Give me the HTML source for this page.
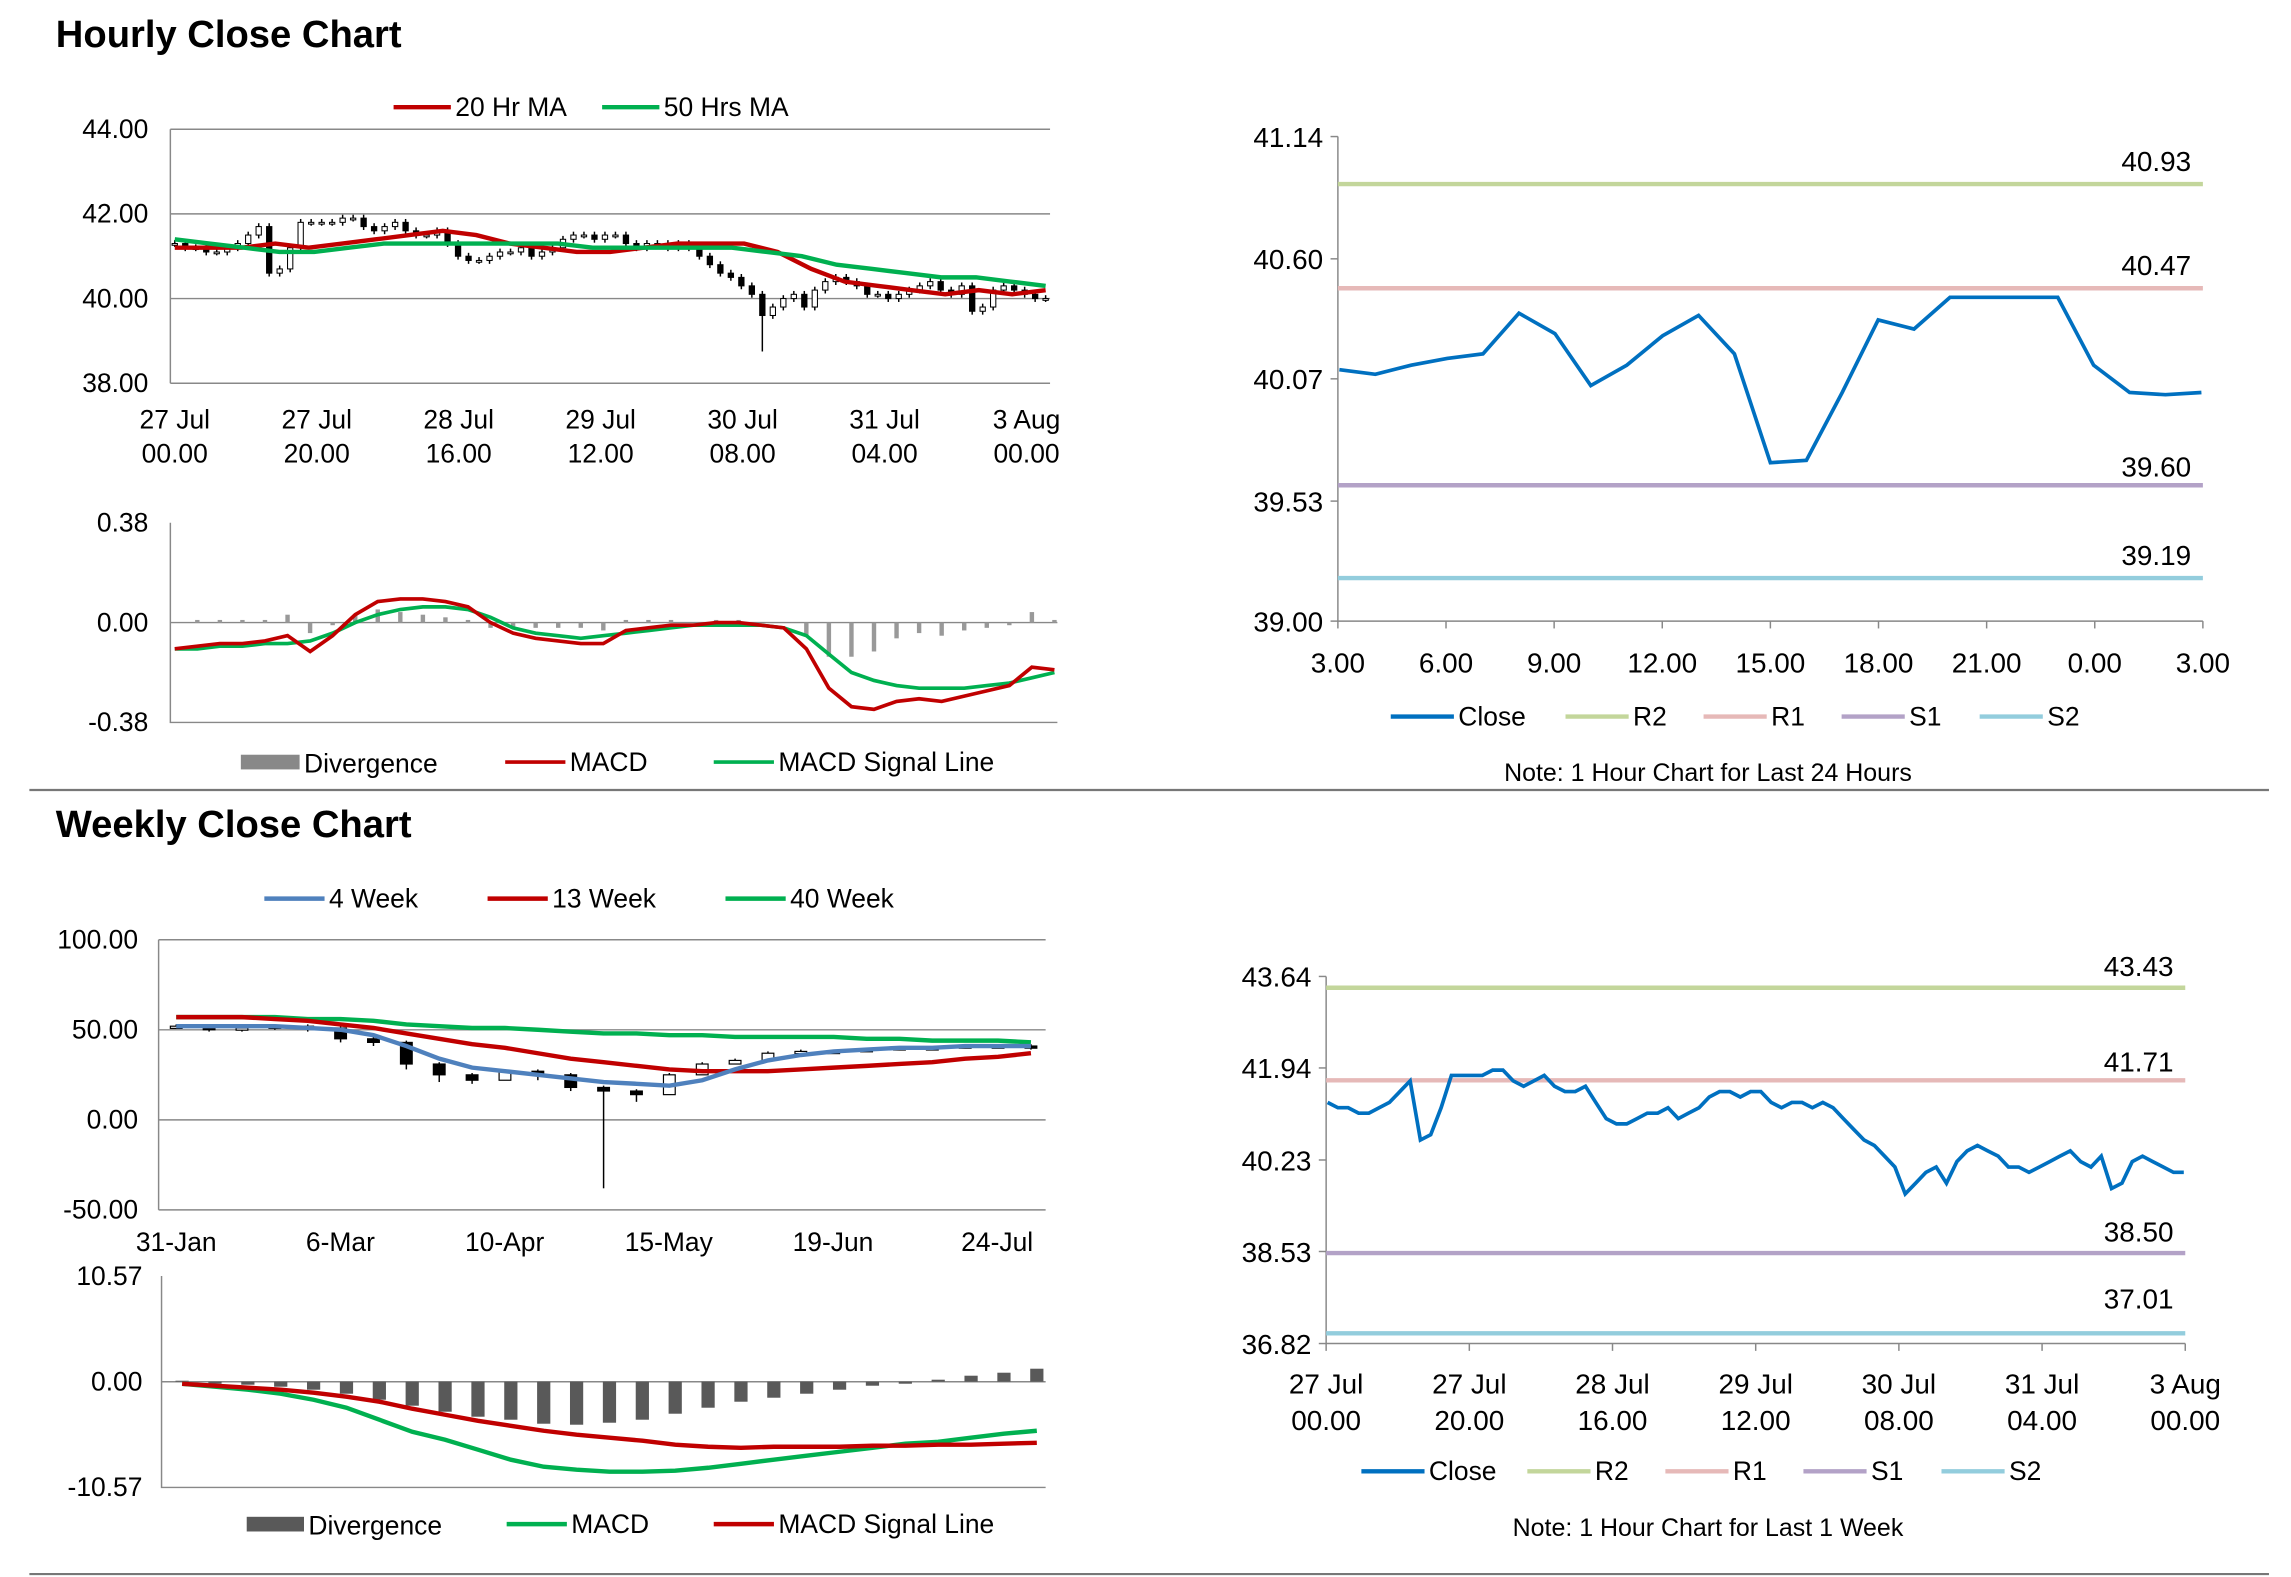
<!DOCTYPE html>
<html><head><meta charset="utf-8"><title>Hourly and Weekly Close Charts</title>
<style>
html,body{margin:0;padding:0;background:#fff;}
svg{display:block;}
text{font-family:"Liberation Sans Narrow","Liberation Sans",sans-serif;fill:#000;}
.t{font-family:"Liberation Sans",sans-serif;font-weight:bold;}
</style></head>
<body>
<svg id="root" xmlns="http://www.w3.org/2000/svg" width="2291" height="1577" viewBox="0 0 1560 1074" preserveAspectRatio="none"></svg>
<script>
// ---------- DATA ----------
const closeH = [41.3,41.2,41.2,41.1,41.1,41.2,41.3,41.5,41.7,40.6,40.7,41.2,41.8,41.8,41.8,41.8,41.9,41.9,41.7,41.6,41.7,41.8,41.6,41.5,41.5,41.6,41.3,41.0,40.9,40.9,41.0,41.1,41.1,41.2,41.0,41.1,41.2,41.4,41.5,41.5,41.4,41.5,41.5,41.3,41.2,41.3,41.3,41.2,41.3,41.2,41.0,40.8,40.6,40.5,40.3,40.1,39.6,39.8,40.0,40.1,39.8,40.2,40.4,40.5,40.4,40.3,40.1,40.1,40.0,40.1,40.2,40.3,40.4,40.2,40.1,40.3,39.7,39.8,40.2,40.3,40.2,40.1,40.0,40.0];
const spikeIdx = [56];
const spikeLow = [38.75];
const ma20H = [41.2,41.2,41.2,41.3,41.2,41.3,41.4,41.5,41.6,41.5,41.3,41.2,41.1,41.1,41.2,41.3,41.3,41.3,41.1,40.7,40.4,40.3,40.2,40.1,40.2,40.1,40.2];
const ma50H = [41.4,41.3,41.2,41.1,41.1,41.2,41.3,41.3,41.3,41.3,41.3,41.3,41.2,41.2,41.2,41.2,41.2,41.1,41.0,40.8,40.7,40.6,40.5,40.5,40.4,40.3];
const hTickVals = [38,40,42,44];
const hTickLabels = ["38.00","40.00","42.00","44.00"];
const dateLabels1 = ["27 Jul","27 Jul","28 Jul","29 Jul","30 Jul","31 Jul","3 Aug"];
const dateLabels2 = ["00.00","20.00","16.00","12.00","08.00","04.00","00.00"];

const macdH = [-0.10,-0.09,-0.08,-0.08,-0.07,-0.05,-0.11,-0.05,0.03,0.08,0.09,0.09,0.08,0.06,0.00,-0.04,-0.06,-0.07,-0.08,-0.08,-0.03,-0.02,-0.01,-0.01,0.00,0.00,-0.01,-0.02,-0.10,-0.25,-0.32,-0.33,-0.30,-0.29,-0.30,-0.28,-0.26,-0.24,-0.17,-0.18];
const signalH = [-0.10,-0.10,-0.09,-0.09,-0.08,-0.08,-0.07,-0.04,0.00,0.03,0.05,0.06,0.06,0.05,0.02,-0.02,-0.04,-0.05,-0.06,-0.05,-0.04,-0.03,-0.02,-0.01,-0.01,-0.01,-0.01,-0.02,-0.05,-0.12,-0.19,-0.22,-0.24,-0.25,-0.25,-0.25,-0.24,-0.23,-0.21,-0.19];
const macdHTicks = [-0.38,0,0.38];
const macdHTickLabels = ["-0.38","0.00","0.38"];

const close24 = [40.11,40.09,40.13,40.16,40.18,40.36,40.27,40.04,40.13,40.26,40.35,40.18,39.70,39.71,40.01,40.33,40.29,40.43,40.43,40.43,40.43,40.13,40.01,40.00,40.01];
const hourLabels = ["3.00","6.00","9.00","12.00","15.00","18.00","21.00","0.00","3.00"];
const pivot24 = [40.93,40.47,39.60,39.19];
const pivotNames = ["R2","R1","S1","S2"];
const pivotColors = ["#c3d69b","#e6b9b8","#b3a2c7","#93cddd"];
const r24Ticks = [39.00,39.53,40.07,40.60,41.14];

const weekLabels = ["31-Jan","6-Mar","10-Apr","15-May","19-Jun","24-Jul"];
const closeW = [52,50,51,52,51,45,43,31,25,22,27,25,18,16,14,25,31,33,37,38,38,39,40,40,41,41,40];
const lowW = [51,49,49,50,49,43,41,28,21,20,22,22,16,-38,10,22,30,32,36,37,37,38,39,39,40,40,39];
const wk4 = [52,52,52,52,51,50,47,41,34,29,27,25,23,21,20,19,22,28,33,36,38,39,40,40,41,41,41];
const wk13 = [57,57,57,56,55,53,51,48,45,42,40,37,34,32,30,28,27,27,27,28,29,30,31,32,34,35,37];
const wk40 = [57,57,57,57,56,56,55,53,52,51,51,50,49,48,48,47,47,46,46,46,46,45,45,44,44,44,43];
const wTicks = [-50,0,50,100];
const wTickLabels = ["-50.00","0.00","50.00","100.00"];

const macdW = [-0.2,-0.5,-0.8,-1.2,-1.8,-2.6,-3.8,-5.0,-5.8,-6.8,-7.8,-8.5,-8.8,-9.0,-9.0,-8.9,-8.6,-8.2,-7.8,-7.4,-7.0,-6.6,-6.2,-6.0,-5.6,-5.2,-4.9];
const signalW = [-0.2,-0.4,-0.6,-0.8,-1.1,-1.5,-2.0,-2.7,-3.3,-3.9,-4.4,-4.9,-5.3,-5.6,-5.9,-6.3,-6.5,-6.6,-6.5,-6.5,-6.5,-6.4,-6.4,-6.3,-6.3,-6.2,-6.1];
const divW = [0.1,-0.2,-0.3,-0.5,-0.8,-1.2,-1.8,-2.4,-3.0,-3.5,-3.8,-4.2,-4.3,-4.1,-3.8,-3.2,-2.6,-2.0,-1.6,-1.2,-0.8,-0.4,-0.2,0.2,0.6,0.9,1.3];
const macdWTicks = [-10.57,0,10.57];
const macdWTickLabels = ["-10.57","0.00","10.57"];

const pivotW = [43.43,41.71,38.50,37.01];
const rWTicks = [36.82,38.53,40.23,41.94,43.64];

// ---------- HELPERS ----------
const NS = "http://www.w3.org/2000/svg";
const root = document.getElementById('root');
function mk(tag, attrs, parent){const e=document.createElementNS(NS,tag);for(const k in attrs)e.setAttribute(k,attrs[k]);(parent||root).appendChild(e);return e;}
function txt(s,x,y,size,anchor,parent,cls){const e=mk('text',{x:x,y:y,'font-size':size,'text-anchor':anchor||'start'},parent);if(cls)e.setAttribute('class',cls);e.textContent=s;return e;}
function lin(v,d0,d1,p0,p1){return p0+(v-d0)/(d1-d0)*(p1-p0);}
function pathD(vals,xf,yf){return vals.map((v,i)=>(i?'L':'M')+xf(i).toFixed(1)+' '+yf(v).toFixed(1)).join(' ');}

let e;
e=txt("Hourly Close Chart",38,32,26,'start',root,'t');


e=txt("Weekly Close Chart",38,570,26,'start',root,'t');


e=mk('line',{x1:20,y1:538,x2:1545,y2:538,stroke:'#777','stroke-width':1.5});


e=mk('line',{x1:20,y1:1072,x2:1545,y2:1072,stroke:'#777','stroke-width':1.5});



function legendLine(g,x1,x2,y,color,label,w){
  const l=mk('line',{x1:x1,y1:y,x2:x2,y2:y,stroke:color,'stroke-width':w||3},g);
  
  
  const t=txt(label,x2+3,y+6,18,'start',g);
  
  
}

// ---------- CHART 1: hourly candles ----------
(function(){
  const g=mk('g',{});
  
  
  const X0=116,X1=715,Y0=261,Y1=88;
  const y=v=>lin(v,38,44,Y0,Y1);
  hTickVals.forEach((v,i)=>{
    const gl=mk('line',{x1:X0,x2:X1,y1:y(v),y2:y(v),stroke:'#888','stroke-width':1},g);
    
    
    const t=txt(hTickLabels[i],101,y(v)+6,18,'end',g);
    
    
  });
  const ax=mk('line',{x1:X0,x2:X0,y1:Y1,y2:Y0,stroke:'#888'},g);
  
  
  const dx=(699-119)/6;
  dateLabels1.forEach((s,i)=>{
    const t=txt(s,119+i*dx,292,18,'middle',g);
    
    
    const t2=txt(dateLabels2[i],119+i*dx,315,18,'middle',g);
    
    
  });
  const n=closeH.length;
  const xc=i=>lin(i,0,n-1,119,712);
  closeH.forEach((c,i)=>{
    const o=i?closeH[i-1]:c;
    let hi=Math.max(o,c)+0.08, lo=Math.min(o,c)-0.08;
    const si=spikeIdx.indexOf(i); if(si>=0) lo=spikeLow[si];
    const w=mk('line',{x1:xc(i),x2:xc(i),y1:y(hi),y2:y(lo),stroke:'#000','stroke-width':1},g);
    
    
    const top=y(Math.max(o,c)), bh=Math.max(1.2,Math.abs(y(o)-y(c)));
    const b=mk('rect',{x:xc(i)-1.8,y:top,width:3.6,height:bh,fill:c>=o?'#fff':'#000',stroke:'#000','stroke-width':0.7},g);
    
    
  });
  const l20=mk('path',{d:pathD(ma20H,i=>lin(i,0,ma20H.length-1,119,712),y),fill:'none',stroke:'#c00000','stroke-width':3},g);
  
  
  const l50=mk('path',{d:pathD(ma50H,i=>lin(i,0,ma50H.length-1,119,712),y),fill:'none',stroke:'#00b050','stroke-width':3},g);
  
  
  legendLine(g,268,307,73,'#c00000','20 Hr MA');
  legendLine(g,410,449,73,'#00b050','50 Hrs MA');
})();

// ---------- CHART 2: hourly MACD ----------
(function(){
  const g=mk('g',{});
  
  
  const X0=116,X1=720,Y0=492,Y1=356;
  const y=v=>lin(v,-0.38,0.38,Y0,Y1);
  macdHTicks.forEach((v,i)=>{
    const t=txt(macdHTickLabels[i],101,y(v)+6,18,'end',g);
    
    
  });
  const ax=mk('path',{d:`M${X0} ${Y1} L${X0} ${Y0} L${X1} ${Y0}`,fill:'none',stroke:'#888'},g);
  
  
  const z=mk('line',{x1:X0,x2:X1,y1:y(0),y2:y(0),stroke:'#888'},g);
  
  
  const n=macdH.length, xf=i=>lin(i,0,n-1,119,718);
  macdH.forEach((m,i)=>{
    const d=m-signalH[i];
    const b=mk('rect',{x:xf(i)-1.5,y:Math.min(y(0),y(d)),width:3,height:Math.abs(y(d)-y(0)),fill:'#999'},g);
    
    
  });
  const s=mk('path',{d:pathD(signalH,xf,y),fill:'none',stroke:'#00b050','stroke-width':2.5},g);
  
  
  const m=mk('path',{d:pathD(macdH,xf,y),fill:'none',stroke:'#c00000','stroke-width':2.5},g);
  
  
  const sw=mk('rect',{x:164,y:514,width:40,height:10,fill:'#888'},g);
  
  
  const tl=txt('Divergence',207,526,18,'start',g);
  
  
  legendLine(g,344,385,519,'#c00000','MACD',2.5);
  legendLine(g,486,527,519,'#00b050','MACD Signal Line',2.5);
})();

// ---------- pivot line charts ----------
function pivotChart(cfg){
  const g=mk('g',{});
  
  
  const y=v=>lin(v,cfg.ymin,cfg.ymax,cfg.Y0,cfg.Y1);
  const ax=mk('path',{d:`M${cfg.X0} ${cfg.Y1} L${cfg.X0} ${cfg.Y0} L${cfg.X1} ${cfg.Y0}`,fill:'none',stroke:'#888'},g);
  
  
  cfg.ticks.forEach(v=>{
    const tk=mk('line',{x1:cfg.X0-5,x2:cfg.X0,y1:y(v),y2:y(v),stroke:'#888'},g);
    
    
    const t=txt(v.toFixed(2),cfg.X0-10,y(v)+7,19,'end',g);
    
    
  });
  cfg.pivots.forEach((p,i)=>{
    const l=mk('line',{x1:cfg.X0,x2:cfg.X1,y1:y(p),y2:y(p),stroke:pivotColors[i],'stroke-width':3},g);
    
    
    const t=txt(p.toFixed(2),cfg.X1-8,y(p)-cfg.labelOff[i],19,'end',g);
    
    
  });
  const n=cfg.data.length, xf=i=>lin(i,0,n-1,cfg.X0+1,cfg.X1-1);
  const c=mk('path',{d:pathD(cfg.data,xf,y),fill:'none',stroke:'#0070c0','stroke-width':2.5},g);
  
  
  cfg.xlab.forEach((s,i)=>{
    const x=lin(i,0,cfg.xlab.length-1,cfg.X0,cfg.X1);
    const tk=mk('line',{x1:x,x2:x,y1:cfg.Y0,y2:cfg.Y0+5,stroke:'#888'},g);
    
    
    const t=txt(s,x,cfg.xy,19,'middle',g);
    
    
    if(cfg.xlab2){
      const t2=txt(cfg.xlab2[i],x,cfg.xy+25,19,'middle',g);
      
      
    }
  });
  const ly=cfg.ly;
  legendLine(g,cfg.lx[0],cfg.lx[0]+43,ly,'#0070c0','Close');
  pivotNames.forEach((nm,i)=>legendLine(g,cfg.lx[i+1],cfg.lx[i+1]+43,ly,pivotColors[i],nm));
  const note=txt(cfg.note,1163,cfg.ny,17,'middle',g);
  
  
}
pivotChart({name:'last-24h-pivot-chart',X0:911,X1:1500,Y0:423,Y1:93,ymin:39.00,ymax:41.14,ticks:r24Ticks,pivots:pivot24,data:close24,xlab:hourLabels,xy:458,ly:488,lx:[947,1066,1160,1254,1348],labelOff:[9,9,6,9],note:'Note: 1 Hour Chart for Last 24 Hours',ny:532});
pivotChart({name:'last-week-pivot-chart',X0:903,X1:1488,Y0:915,Y1:665,ymin:36.82,ymax:43.64,ticks:rWTicks,pivots:pivotW,data:closeH,xlab:dateLabels1,xlab2:dateLabels2,xy:949,ly:1002,lx:[927,1040,1134,1228,1322],labelOff:[8,6,8,17],note:'Note: 1 Hour Chart for Last 1 Week',ny:1046});

// ---------- CHART: weekly ----------
(function(){
  const g=mk('g',{});
  
  
  const X0=108,X1=712,Y0=824,Y1=640;
  const y=v=>lin(v,-50,100,Y0,Y1);
  wTicks.forEach((v,i)=>{
    const gl=mk('line',{x1:X0,x2:X1,y1:y(v),y2:y(v),stroke:'#888'},g);
    
    
    const t=txt(wTickLabels[i],94,y(v)+6,18,'end',g);
    
    
  });
  const ax=mk('line',{x1:X0,x2:X0,y1:Y1,y2:Y0,stroke:'#888'},g);
  
  
  weekLabels.forEach((s,i)=>{
    const t=txt(s,120+i*111.8,852,18,'middle',g);
    
    
  });
  const n=closeW.length, xf=i=>lin(i,0,n-1,120,702);
  closeW.forEach((c,i)=>{
    const o=i?closeW[i-1]:c;
    const hi=Math.max(o,c)+1, lo=Math.min(lowW[i],Math.min(o,c));
    const w=mk('line',{x1:xf(i),x2:xf(i),y1:y(hi),y2:y(lo),stroke:'#000'},g);
    
    
    const b=mk('rect',{x:xf(i)-4,y:y(Math.max(o,c)),width:8,height:Math.max(1.5,Math.abs(y(o)-y(c))),fill:c>=o?'#fff':'#000',stroke:'#000','stroke-width':0.8},g);
    
    
  });
  const l40=mk('path',{d:pathD(wk40,xf,y),fill:'none',stroke:'#00b050','stroke-width':3},g);
  
  
  const l13=mk('path',{d:pathD(wk13,xf,y),fill:'none',stroke:'#c00000','stroke-width':3},g);
  
  
  const l4=mk('path',{d:pathD(wk4,xf,y),fill:'none',stroke:'#4f81bd','stroke-width':3},g);
  
  
  legendLine(g,180,221,612,'#4f81bd','4 Week');
  legendLine(g,332,373,612,'#c00000','13 Week');
  legendLine(g,494,535,612,'#00b050','40 Week');
})();

// ---------- CHART: weekly MACD ----------
(function(){
  const g=mk('g',{});
  
  
  const X0=110,X1=712,Y0=1013,Y1=869;
  const y=v=>lin(v,-10.57,10.57,Y0,Y1);
  macdWTicks.forEach((v,i)=>{
    const t=txt(macdWTickLabels[i],97,y(v)+6,18,'end',g);
    
    
  });
  const ax=mk('path',{d:`M${X0} ${Y1} L${X0} ${Y0} L${X1} ${Y0}`,fill:'none',stroke:'#888'},g);
  
  
  const z=mk('line',{x1:X0,x2:X1,y1:y(0),y2:y(0),stroke:'#888'},g);
  
  
  const n=divW.length, xf=i=>lin(i,0,n-1,124,706);
  divW.forEach((d,i)=>{
    const b=mk('rect',{x:xf(i)-4.5,y:Math.min(y(0),y(d)),width:9,height:Math.abs(y(d)-y(0)),fill:'#595959'},g);
    
    
  });
  const m=mk('path',{d:pathD(macdW,xf,y),fill:'none',stroke:'#00b050','stroke-width':3},g);
  
  
  const s=mk('path',{d:pathD(signalW,xf,y),fill:'none',stroke:'#c00000','stroke-width':3},g);
  
  
  const sw=mk('rect',{x:168,y:1033,width:39,height:10,fill:'#595959'},g);
  
  
  const tl=txt('Divergence',210,1045,18,'start',g);
  
  
  legendLine(g,345,386,1038,'#00b050','MACD');
  legendLine(g,486,527,1038,'#c00000','MACD Signal Line');
})();
</script>
</body></html>
